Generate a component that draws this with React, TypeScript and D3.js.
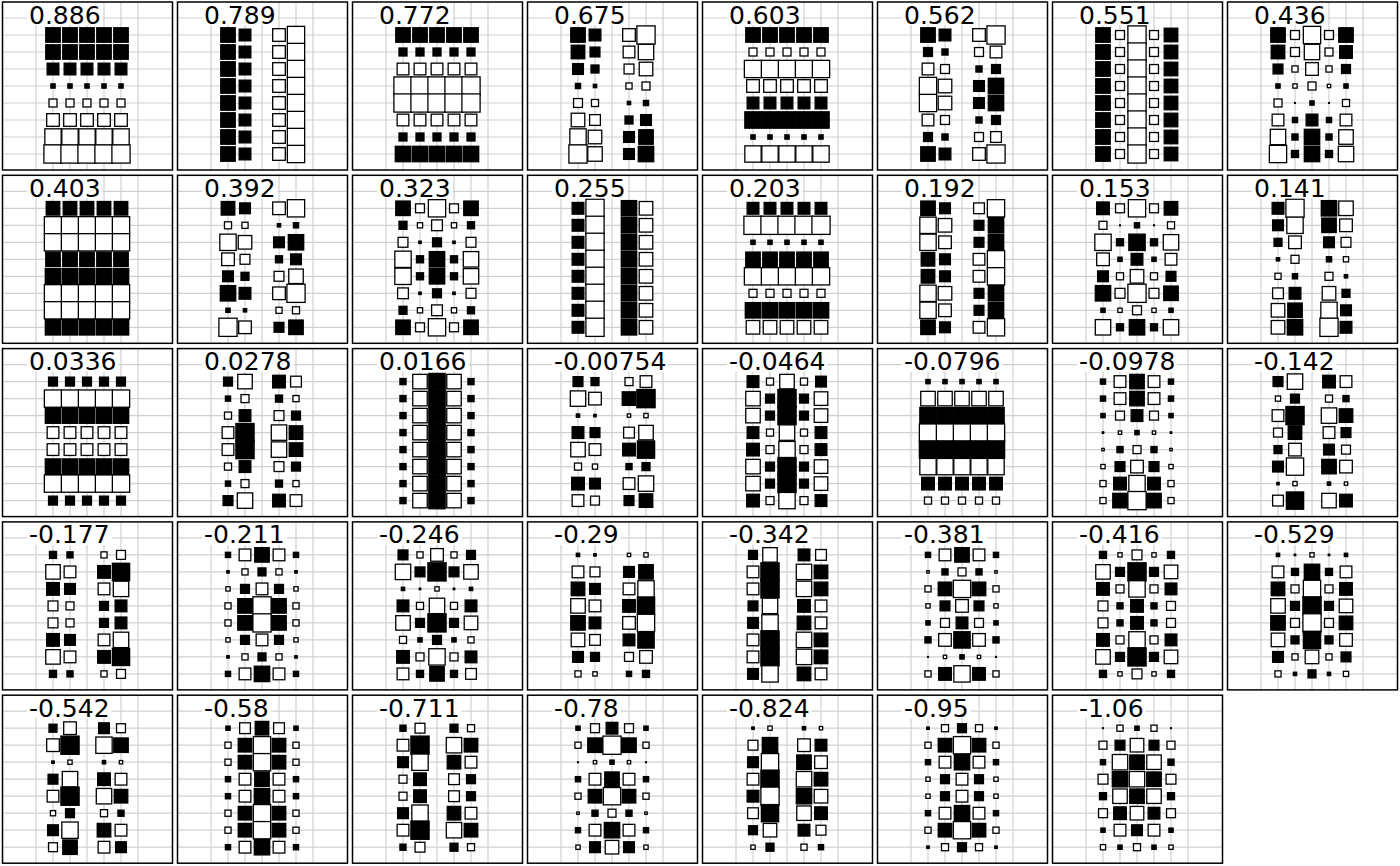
import React from "react";
import * as d3 from "d3";

// Moran eigenvalue shown on each panel
const eigenvalues = [
  "0.886", "0.789", "0.772", "0.675", "0.603", "0.562", "0.551", "0.436",
  "0.403", "0.392", "0.323", "0.255", "0.203", "0.192", "0.153", "0.141",
  "0.0336", "0.0278", "0.0166", "-0.00754", "-0.0464", "-0.0796", "-0.0978", "-0.142",
  "-0.177", "-0.211", "-0.246", "-0.29", "-0.342", "-0.381", "-0.416", "-0.529",
  "-0.542", "-0.58", "-0.711", "-0.78", "-0.824", "-0.95", "-1.06",
];

// grid of sites: 5 columns x 8 rows
const siteCols = [0, 1, 2, 3, 4];
const siteRows = [0, 1, 2, 3, 4, 5, 6, 7];

// eigenvector values (x100), row by row from the top, 5 per row
const ev01 = [17,17,17,17,17, 17,17,17,17,17, 14,14,14,14,14, 6,6,6,6,6, -10,-10,-10,-10,-10, -15,-15,-15,-15,-15, -19,-19,-19,-19,-19, -21,-21,-21,-21,-21];
const ev02 = [17,14,0,-15,-20, 17,14,0,-15,-20, 17,14,0,-15,-20, 17,14,0,-15,-20, 17,14,0,-15,-20, 17,14,0,-15,-20, 17,14,0,-15,-20, 17,14,0,-15,-20];
const ev03 = [17,17,17,17,17, 10,10,10,10,10, -14,-14,-14,-14,-14, -21,-21,-21,-21,-21, -21,-21,-21,-21,-21, -14,-14,-14,-14,-14, 10,10,10,10,10, 18,18,18,18,18];
const ev04 = [17,14,0,-15,-21, 16,12,0,-14,-18, 13,10,0,-12,-16, 7,5,0,-8,-10, -11,-9,0,5,7, -16,-13,0,10,13, -19,-16,0,13,17, -21,-17,0,13,18];
const ev05 = [17,17,17,17,17, -10,-10,-10,-10,-10, -20,-20,-20,-20,-20, -15,-15,-15,-15,-15, 14,14,14,14,14, 19,19,19,19,19, 6,6,6,6,6, -19,-19,-19,-19,-19];
const ev06 = [17,14,0,-15,-21, 11,8,0,-11,-14, -14,-11,0,8,11, -20,-16,0,13,18, -20,-16,0,13,18, -14,-11,0,8,11, 11,8,0,-11,-13, 17,14,0,-15,-21];
const ev07 = [17,-11,-21,-11,16, 17,-11,-21,-11,16, 17,-11,-21,-11,16, 17,-11,-21,-11,16, 17,-11,-21,-11,16, 17,-11,-21,-11,16, 17,-11,-21,-11,16, 17,-11,-21,-11,16];
const ev08 = [17,-11,-20,-11,17, 16,-11,-18,-10,15, 12,-8,-15,-8,11, 6,-6,-10,-5,6, -10,2,6,2,-9, -14,7,14,7,-14, -18,8,18,8,-17, -20,9,18,9,-18];
const ev09 = [16,16,16,16,16, -20,-20,-20,-20,-20, -20,-20,-20,-20,-20, 17,17,17,17,17, 18,18,18,18,18, -20,-20,-20,-20,-20, -20,-20,-20,-20,-20, 18,18,18,18,18];
const ev10 = [16,13,0,-15,-20, -9,-8,0,5,7, -19,-16,0,13,18, -15,-12,0,9,13, 13,10,0,-12,-17, 18,14,0,-15,-21, 6,5,0,-8,-9, -21,-15,0,12,17];
const ev11 = [17,-11,-20,-11,17, 10,-7,-13,-7,9, -12,4,11,4,-12, -19,9,18,9,-18, -19,9,18,9,-18, -13,4,11,4,-12, 10,-7,-13,-7,9, 17,-11,-20,-11,17];
const ev12 = [14,-21,0,18,-16, 14,-21,0,18,-16, 14,-21,0,18,-16, 14,-21,0,18,-16, 14,-21,0,18,-16, 14,-21,0,18,-16, 14,-21,0,18,-16, 14,-21,0,18,-16];
const ev13 = [14,14,14,14,14, -21,-21,-21,-21,-21, 6,6,6,6,6, 17,17,17,17,17, -20,-20,-20,-20,-20, -10,-10,-10,-10,-10, 18,18,18,18,18, -16,-16,-16,-16,-16];
const ev14 = [17,13,0,-13,-20, -19,-16,0,12,18, -19,-15,0,12,18, 16,13,0,-14,-20, 16,13,0,-14,-20, -19,-16,0,12,18, -19,-15,0,12,18, 17,13,0,-14,-20];
const ev15 = [15,-11,-20,-11,16, -10,2,7,2,-9, -19,9,19,9,-18, -15,6,14,6,-14, 13,-9,-16,-9,12, 18,-12,-21,-12,17, 6,-6,-11,-6,6, -18,9,18,9,-18];
const ev16 = [14,-21,0,18,-17, 13,-19,0,17,-15, 10,-15,0,13,-12, 5,-10,0,7,-7, -8,7,0,-10,5, -13,14,0,-16,10, -16,17,0,-19,13, -16,18,0,-21,14];
const ev17 = [11,11,11,11,11, -20,-20,-20,-20,-20, 18,18,18,18,18, -14,-14,-14,-14,-14, -14,-14,-14,-14,-14, 18,18,18,18,18, -20,-20,-20,-20,-20, 11,11,11,11,11];
const ev18 = [11,-17,0,15,-13, 7,-10,0,9,-8, -9,14,0,-12,11, -14,21,0,-18,16, -14,21,0,-18,16, -9,14,0,-12,11, 7,-10,0,9,-8, 12,-18,0,15,-14];
const ev19 = [8,-17,19,-17,8, 8,-17,19,-17,8, 8,-17,19,-17,8, 8,-17,19,-17,8, 8,-17,19,-17,8, 8,-17,19,-17,8, 8,-17,19,-17,8, 8,-17,19,-17,8];
const ev20 = [12,10,0,-10,-14, -18,-15,0,16,21, 5,4,0,-5,-6, 14,12,0,-13,-17, -17,-14,0,15,20, -9,-7,0,8,10, 15,13,0,-14,-18, -14,-11,0,12,16];
const ev21 = [14,-9,-17,-9,13, -17,11,21,11,-16, -17,11,21,11,-16, 14,-9,-18,-9,14, 15,-10,-19,-10,14, -17,11,21,11,-16, -17,11,21,11,-16, 15,-10,-19,-10,14];
const ev22 = [6,6,6,6,6, -17,-17,-17,-17,-17, 19,19,19,19,19, -20,-20,-20,-20,-20, 20,20,20,20,20, -19,-19,-19,-19,-19, 15,15,15,15,15, -9,-9,-9,-9,-9];
const ev23 = [7,-14,17,-14,7, 7,-14,17,-14,7, 6,-11,14,-11,6, 3,-5,6,-5,3, -4,8,-10,8,-4, -6,12,-15,12,-6, -8,15,-19,15,-8, -8,17,-21,17,-8];
const ev24 = [12,-18,0,15,-14, -7,11,0,-9,8, -14,21,0,-18,16, -11,16,0,-14,12, 10,-15,0,13,-11, 13,-20,0,17,-15, 4,-6,0,5,-5, -13,20,0,-17,15];
const ev25 = [9,8,0,-8,-11, -17,-14,0,15,20, 15,13,0,-14,-18, -12,-10,0,11,14, -12,-10,0,11,14, 15,13,0,-14,-18, -17,-14,0,15,20, 9,8,0,-8,-11];
const ev26 = [7,-14,17,-14,7, 4,-8,10,-8,4, -6,11,-14,11,-6, -8,17,-21,17,-8, -8,17,-21,17,-8, -6,11,-14,11,-6, 4,-8,10,-8,4, 7,-14,18,-14,7];
const ev27 = [12,-8,-15,-8,11, -18,12,21,12,-17, 5,-3,-6,-3,5, 14,-9,-18,-9,14, -17,11,21,11,-16, -9,6,11,6,-8, 15,-10,-19,-10,14, -14,9,17,9,-13];
const ev28 = [5,4,0,-5,-6, -14,-12,0,13,17, 16,13,0,-14,-19, -17,-14,0,15,20, 17,14,0,-15,-20, -16,-13,0,14,19, 13,11,0,-11,-15, -8,-6,0,7,9];
const ev29 = [11,-17,0,14,-13, -14,21,0,-18,16, -14,21,0,-18,16, 12,-18,0,15,-14, 13,-19,0,16,-14, -14,21,0,-18,16, -14,21,0,-18,16, 13,-19,0,16,-14];
const ev30 = [7,-14,17,-14,7, -4,8,-10,8,-4, -8,16,-20,16,-8, -6,12,-15,12,-6, 6,-11,14,-11,6, 8,-15,19,-15,8, 2,-5,6,-5,2, -8,15,-19,15,-8];
const ev31 = [9,-6,-12,-6,9, -17,11,21,11,-16, 15,-10,-19,-10,14, -12,8,15,8,-11, -12,8,15,8,-11, 15,-10,-19,-10,14, -17,11,21,11,-16, 9,-6,-12,-6,9];
const ev32 = [5,-3,-6,-3,5, -14,9,18,9,-14, 16,-10,-20,-10,15, -17,11,21,11,-16, 17,-11,-21,-11,16, -16,10,20,10,-15, 13,-8,-16,-8,12, -8,5,10,5,-7];
const ev33 = [10,-15,0,13,-11, -15,21,0,-19,17, 4,-6,0,5,-5, 12,-18,0,15,-14, -14,21,0,-18,16, -7,11,0,-9,8, 13,-19,0,16,-14, -11,17,0,-14,13];
const ev34 = [6,-13,16,-13,6, -8,16,-20,16,-8, -8,16,-20,16,-8, 7,-14,17,-14,7, 7,-14,18,-14,7, -8,16,-20,16,-8, -8,16,-20,16,-8, 7,-14,18,-14,7];
const ev35 = [8,-12,0,10,-9, -14,21,0,-18,16, 13,-19,0,16,-14, -10,15,0,-13,11, -10,15,0,-13,11, 13,-19,0,16,-14, -14,21,0,-18,16, 8,-12,0,10,-9];
const ev36 = [6,-11,14,-11,6, -8,17,-21,17,-8, 2,-5,6,-5,2, 7,-14,17,-14,7, -8,16,-20,16,-8, -4,8,-10,8,-4, 7,-14,18,-14,7, -6,13,-16,13,-6];
const ev37 = [4,-6,0,5,-5, -12,18,0,-15,14, 13,-20,0,17,-15, -14,21,0,-18,16, 14,-21,0,18,-16, -13,20,0,-17,15, 11,-16,0,14,-12, -6,10,0,-8,7];
const ev38 = [4,-9,11,-9,4, -8,16,-20,16,-8, 7,-14,18,-14,7, -6,11,-14,11,-6, -6,11,-14,11,-6, 7,-14,18,-14,7, -8,16,-20,16,-8, 4,-9,11,-9,4];
const ev39 = [2,-8,6,-8,2, -10,12,-16,12,-10, 7,-18,17,-17,8, -12,18,-18,17,-12, 9,-17,17,-17,9, -11,15,-16,14,-11, 6,-14,13,-14,6, -7,6,-9,6,-6];

const eigenvectors = [
  ev01, ev02, ev03, ev04, ev05, ev06, ev07, ev08, ev09, ev10, ev11, ev12, ev13,
  ev14, ev15, ev16, ev17, ev18, ev19, ev20, ev21, ev22, ev23, ev24, ev25, ev26,
  ev27, ev28, ev29, ev30, ev31, ev32, ev33, ev34, ev35, ev36, ev37, ev38, ev39,
];

const PANEL_W = 170;
const PANEL_H = 168;
const PANELS_PER_ROW = 8;

function labelWidth(s: string, fs: number) {
  let w = 0;
  for (const ch of s) w += ch === "." ? 0.318 : ch === "-" ? 0.361 : 0.636;
  return w * fs;
}

export default function App() {
  const panelX = d3.scaleLinear().domain([0, 7]).range([2, 2 + 175 * 7]);
  const panelY = d3.scaleLinear().domain([0, 4]).range([2, 2 + 173.3 * 4]);
  const x = d3.scaleLinear().domain([0, 4]).range([51, 119]);
  const y = d3.scaleLinear().domain([0, 7]).range([33, 152]);
  const side = d3.scaleLinear().domain([0, 21]).range([-1.3, 18.2]);
  const vGrid = d3.range(-1, 6);
  const hGrid = d3.range(-1, 9);
  const fs = 25;

  return (
    <svg
      width={1400}
      height={866}
      style={{ position: "absolute", left: 0, top: 0, background: "#fff" }}
      fontFamily="DejaVu Sans"
    >
      <rect width={1400} height={866} fill="#fff" />
      {eigenvectors.map((vals, i) => {
        const px = panelX(i % PANELS_PER_ROW);
        const py = panelY(Math.floor(i / PANELS_PER_ROW));
        const lab = eigenvalues[i];
        return (
          <g key={i} transform={`translate(${px},${py})`}>
            <clipPath id={`clip${i}`}>
              <rect x={0} y={0} width={PANEL_W} height={PANEL_H} />
            </clipPath>
            <g clipPath={`url(#clip${i})`}>
              <rect x={0} y={0} width={PANEL_W} height={PANEL_H} fill="#fff" />
              {hGrid.map((k) => (
                <line key={"h" + k} x1={0} x2={PANEL_W} y1={y(k)} y2={y(k)} stroke="#d0d0d0" strokeWidth={1.2} />
              ))}
              {vGrid.map((k) => (
                <line key={"v" + k} x1={x(k)} x2={x(k)} y1={0} y2={PANEL_H} stroke="#d0d0d0" strokeWidth={1.2} />
              ))}
              {siteRows.map((r) =>
                siteCols.map((c) => {
                  const v = vals[r * 5 + c];
                  if (!v) return null;
                  const s = Math.max(0.8, side(Math.abs(v)));
                  return (
                    <rect
                      key={r + "-" + c}
                      x={x(c) - s / 2}
                      y={y(r) - s / 2}
                      width={s}
                      height={s}
                      fill={v > 0 ? "#000" : "#fff"}
                      stroke="#000"
                      strokeWidth={1.3}
                    />
                  );
                })
              )}
              <rect x={25} y={0} width={labelWidth(lab, fs) + 4} height={23} fill="#fff" />
            </g>
            <text x={27} y={21.5} fontSize={fs} fill="#000">
              {lab}
            </text>
            <rect x={0.5} y={0} width={PANEL_W} height={PANEL_H} fill="none" stroke="#000" strokeWidth={1.5} />
          </g>
        );
      })}
    </svg>
  );
}
